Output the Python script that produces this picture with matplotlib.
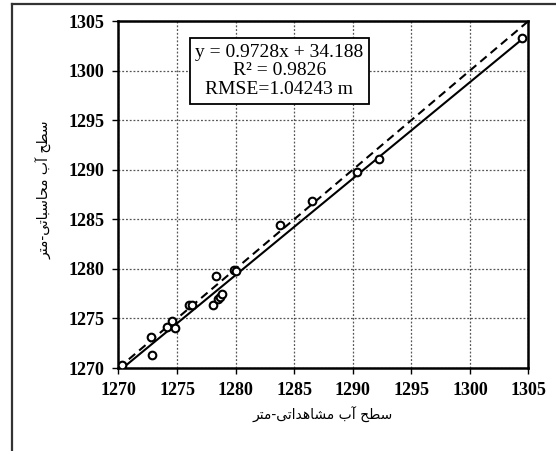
import numpy as np
import matplotlib
matplotlib.use('Agg')
import matplotlib.pyplot as plt
from matplotlib.lines import Line2D

# observed vs simulated water level (m)
obs = [1270.31, 1272.78, 1272.84, 1274.15, 1274.55, 1274.86, 1276.02, 1276.31,
       1278.07, 1278.35, 1278.52, 1278.69, 1278.86, 1279.86, 1280.00, 1283.78,
       1286.48, 1290.38, 1292.23, 1304.45]
sim = [1270.34, 1273.09, 1271.34, 1274.16, 1274.73, 1273.99, 1276.31, 1276.31,
       1276.31, 1279.26, 1276.98, 1277.21, 1277.48, 1279.87, 1279.80, 1284.42,
       1286.87, 1289.73, 1291.04, 1303.30]
slope, intercept = 0.9728, 34.188
ticks = [1270, 1275, 1280, 1285, 1290, 1295, 1300, 1305]
eq_lines = ["y = 0.9728x + 34.188", "R\u00b2 = 0.9826", "RMSE=1.04243 m"]
xlabel_fa = "سطح آب مشاهداتی-متر"
ylabel_fa = "سطح آب محاسباتی-متر"

# simple persian shaping (matplotlib has no complex text layout)
FORMS = {
    'ا': ('\uFE8D', '\uFE8E', None, None),
    'آ': ('\uFE81', '\uFE82', None, None),
    'ب': ('\uFE8F', '\uFE90', '\uFE91', '\uFE92'),
    'ت': ('\uFE95', '\uFE96', '\uFE97', '\uFE98'),
    'ح': ('\uFEA1', '\uFEA2', '\uFEA3', '\uFEA4'),
    'د': ('\uFEA9', '\uFEAA', None, None),
    'ر': ('\uFEAD', '\uFEAE', None, None),
    'س': ('\uFEB1', '\uFEB2', '\uFEB3', '\uFEB4'),
    'ش': ('\uFEB5', '\uFEB6', '\uFEB7', '\uFEB8'),
    'ط': ('\uFEC1', '\uFEC2', '\uFEC3', '\uFEC4'),
    'م': ('\uFEE1', '\uFEE2', '\uFEE3', '\uFEE4'),
    'ه': ('\uFEE9', '\uFEEA', '\uFEEB', '\uFEEC'),
    'ی': ('\uFEEF', '\uFEF0', '\uFEF3', '\uFEF4'),
}


def shape(s):
    out = []
    for i, c in enumerate(s):
        if c not in FORMS:
            out.append(c)
            continue
        prev = s[i - 1] if i > 0 else None
        nxt = s[i + 1] if i < len(s) - 1 else None
        j_prev = prev in FORMS and FORMS[prev][2] is not None
        j_next = FORMS[c][2] is not None and nxt in FORMS
        f = FORMS[c]
        if j_prev and j_next:
            out.append(f[3])
        elif j_prev:
            out.append(f[1])
        elif j_next:
            out.append(f[2])
        else:
            out.append(f[0])
    return ''.join(out)[::-1]


fig = plt.figure(figsize=(5.56, 4.51), dpi=100)
ax = fig.add_axes([0.2131, 0.184, 0.7374, 0.7694])

xx = np.array([min(obs), max(obs)])
ax.plot([1270, 1305], [1270, 1305], color='black', lw=1.5, ls=(0, (4, 2.5)), zorder=3)
ax.plot(xx, slope * xx + intercept, color='black', lw=1.5, zorder=3)
ax.plot(obs, sim, 'o', ms=5.5, mfc='white', mec='black', mew=1.5, zorder=4)

ax.set_xlim(1270, 1305)
ax.set_ylim(1270, 1305)
ax.set_xticks(ticks)
ax.set_yticks(ticks)
ax.grid(True, color='#555555', ls=(0, (1.5, 1.5)), lw=0.9)
for s in ax.spines.values():
    s.set_linewidth(1.8)
ax.tick_params(direction='out', length=4, width=1, pad=6)
for lab in ax.get_xticklabels() + ax.get_yticklabels():
    lab.set_fontfamily('Liberation Serif')
    lab.set_fontweight('bold')
    lab.set_fontsize(13)

ax.text(0.3927, 0.857, "\n".join(eq_lines), transform=ax.transAxes,
        ha='center', va='center', family='Liberation Serif', fontsize=14,
        linespacing=1.12, zorder=5,
        bbox=dict(boxstyle='square,pad=0.3', fc='white', ec='black', lw=1.3))

fig.text(323 / 556, 1 - 415 / 451, shape(xlabel_fa), ha='center', va='center',
         family='DejaVu Sans', fontsize=10)
fig.text(44 / 556, 1 - 190 / 451, shape(ylabel_fa), ha='center', va='center',
         rotation=90, family='DejaVu Sans', fontsize=10)

# outer frame (only left and top edges fall inside the image)
fig.add_artist(Line2D([12 / 556, 12 / 556], [0, 1 - 4 / 451], color='#333333', lw=1.6))
fig.add_artist(Line2D([12 / 556, 1], [1 - 4 / 451, 1 - 4 / 451], color='#333333', lw=1.6))

fig.savefig('out.png', dpi=100)
